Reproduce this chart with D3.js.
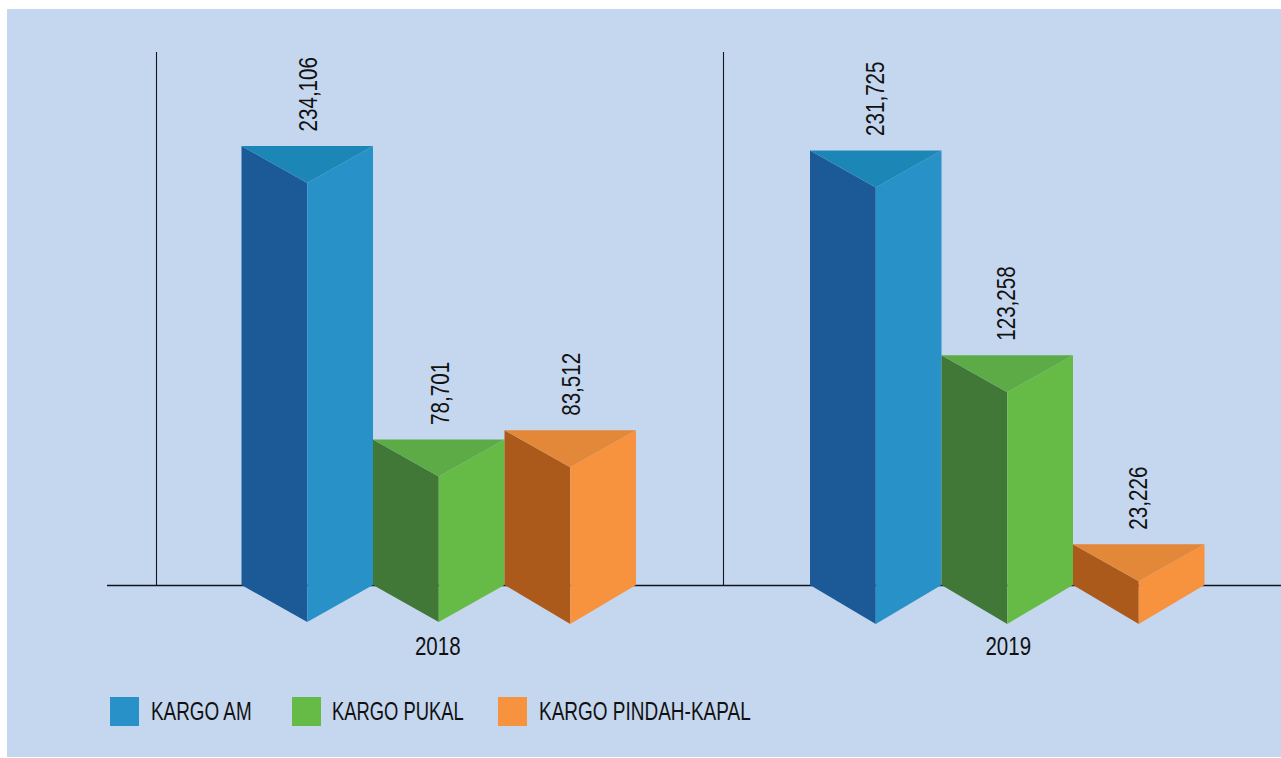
<!DOCTYPE html>
<html>
<head>
<meta charset="utf-8">
<script src="https://cdn.jsdelivr.net/npm/d3@7.9.0/dist/d3.min.js"></script>
<style>
  html, body { margin: 0; background: #fff; }
  svg { display: block; }
  text { font-family: "Liberation Sans", sans-serif; fill: #111; }
</style>
</head>
<body>
<svg id="chart" width="1281" height="758"></svg>
<script>
const years = ['2018', '2019'];
const seriesNames = ['KARGO AM', 'KARGO PUKAL', 'KARGO PINDAH-KAPAL'];
const values2018 = [234106, 78701, 83512];
const values2019 = [231725, 123258, 23226];
const valuesByYear = [values2018, values2019];

const darkColors = ['#1b5a96', '#417838', '#ab5a1c'];
const lightColors = ['#2891c8', '#65bb46', '#f7923e'];
const topColors = ['#1c86b7', '#5dab46', '#e38738'];

const legendX = [110, 292, 498];
const legendTextX = [151, 332, 539];
const legendSqueeze = [0.755, 0.735, 0.76];

const baseY = 585;
const topDepth = 37;
// the bottom points are not quite even in the original
const tipDepth = (yi, si) => (yi === 1 || si === 2 ? 39 : 37);

const svg = d3.select('#chart');

svg.append('rect')
  .attr('x', 7).attr('y', 9)
  .attr('width', 1274).attr('height', 748)
  .attr('fill', '#c5d7ef');

const xFrame = d3.scaleBand().domain(years).range([156, 1290]);
const xGroup = d3.scaleBand().domain(years).range([241.5, 1378.5]);
const xBar = d3.scaleBand().domain(seriesNames).range([0, 394.5]);
const y = d3.scaleLinear().domain([0, 234106]).range([588, 146]);

// frame lines sit behind the bars, half pixel keeps them crisp
svg.append('line')
  .attr('x1', 107).attr('x2', 1281)
  .attr('y1', baseY + 0.5).attr('y2', baseY + 0.5)
  .attr('stroke', '#10141c').attr('stroke-width', 1.3);

years.forEach(year => {
  svg.append('line')
    .attr('x1', xFrame(year) + 0.5).attr('x2', xFrame(year) + 0.5)
    .attr('y1', 52).attr('y2', baseY)
    .attr('stroke', '#10141c').attr('stroke-width', 1.1);
});

years.forEach((year, yi) => {
  const g = svg.append('g').attr('transform', `translate(${xGroup(year)},0)`);

  seriesNames.forEach((name, si) => {
    const v = valuesByYear[yi][si];
    const left = xBar(name);
    const w = xBar.bandwidth();
    const mid = left + w / 2;
    const right = left + w;
    const top = y(v);
    const tip = baseY + tipDepth(yi, si);

    g.append('path')
      .attr('d', `M${left},${top}L${mid},${top + topDepth}L${mid},${tip}L${left},${baseY}Z`)
      .attr('fill', darkColors[si]);
    g.append('path')
      .attr('d', `M${right},${top}L${mid},${top + topDepth}L${mid},${tip}L${right},${baseY}Z`)
      .attr('fill', lightColors[si]);
    g.append('path')
      .attr('d', `M${left},${top}L${right},${top}L${mid},${top + topDepth}Z`)
      .attr('fill', topColors[si]);

    g.append('text')
      .attr('transform', `translate(${mid + 10 - yi * 2},${top - 14.5}) rotate(-90) scale(0.825,1)`)
      .attr('font-size', 25)
      .text(d3.format(',')(v));
  });

  g.append('text')
    .attr('transform', `translate(${xBar.step() * 1.5 - 1 + yi * 2},655) scale(0.82,1)`)
    .attr('text-anchor', 'middle')
    .attr('font-size', 25)
    .text(year);
});

seriesNames.forEach((name, i) => {
  svg.append('rect')
    .attr('x', legendX[i]).attr('y', 697)
    .attr('width', 29).attr('height', 29)
    .attr('fill', lightColors[i]);
  svg.append('text')
    .attr('transform', `translate(${legendTextX[i]},720) scale(${legendSqueeze[i]},1)`)
    .attr('font-size', 25)
    .text(name);
});
</script>
</body>
</html>
